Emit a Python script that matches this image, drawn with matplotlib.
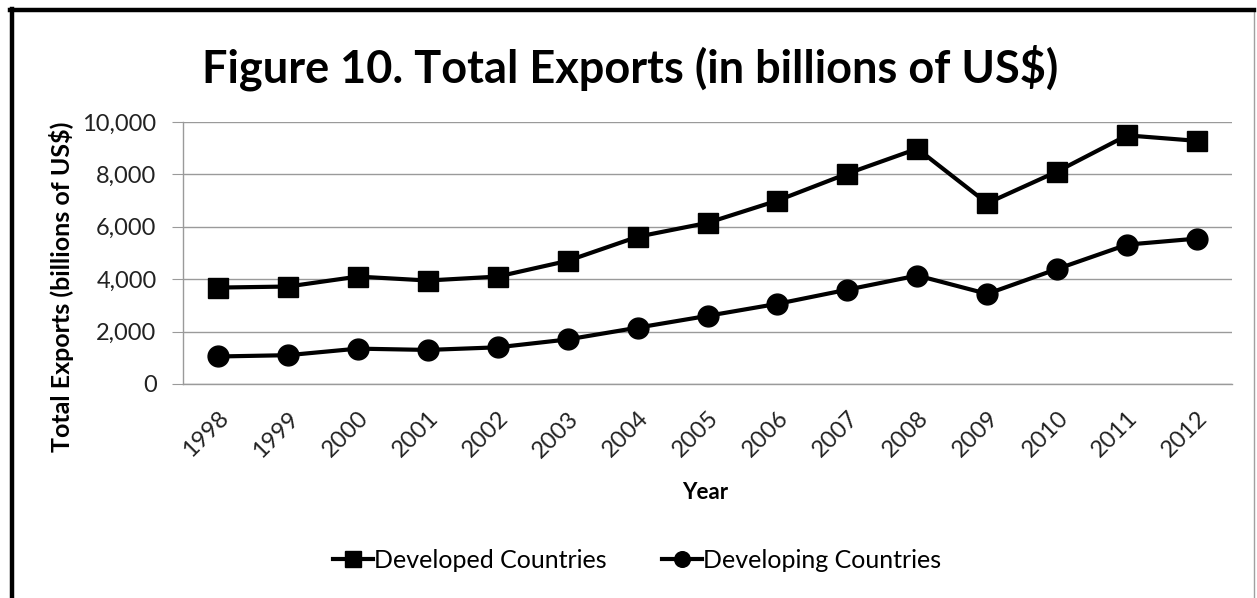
import matplotlib
matplotlib.use("Agg")
import matplotlib.pyplot as plt
from matplotlib.patches import Rectangle
from matplotlib.ticker import FuncFormatter, MultipleLocator

years = ["1998", "1999", "2000", "2001", "2002", "2003", "2004", "2005",
         "2006", "2007", "2008", "2009", "2010", "2011", "2012"]
developed = [3680, 3720, 4100, 3950, 4100, 4700, 5620, 6150,
             7000, 8030, 8980, 6900, 8110, 9490, 9280]
developing = [1050, 1100, 1350, 1300, 1400, 1700, 2150, 2600,
              3060, 3600, 4140, 3440, 4390, 5320, 5550]

plt.rcParams['font.family'] = ['Lato', 'DejaVu Sans']

W, H = 1257, 598
fig = plt.figure(figsize=(W / 100, H / 100), dpi=100)

# chart frame
fig.patches.append(Rectangle((11 / W, -0.05), (1254 - 11) / W, 1.05 - 10 / H,
                             transform=fig.transFigure, fill=False,
                             edgecolor="#a0a0a0", linewidth=1.0, zorder=0))
fig.add_artist(plt.Line2D([11.5 / W, 11.5 / W], [0, 1 - 9 / H],
                          transform=fig.transFigure, color="black", linewidth=3.2))
fig.add_artist(plt.Line2D([10 / W, 1254 / W], [1 - 10 / H, 1 - 10 / H],
                          transform=fig.transFigure, color="black", linewidth=3.2))

left, right = 183 / W, 1232 / W
bottom, top = 1 - 384 / H, 1 - 122 / H
ax = fig.add_axes([left, bottom, right - left, top - bottom])

x = list(range(len(years)))
ax.plot(x, developed, color="black", linewidth=3, marker="s", markersize=14.5,
        label="Developed Countries", zorder=3)
ax.plot(x, developing, color="black", linewidth=3, marker="o", markersize=15,
        label="Developing Countries", zorder=3)

ax.set_xlim(-0.5, len(years) - 0.5)
ax.set_ylim(0, 10000)
ax.yaxis.set_major_locator(MultipleLocator(2000))
ax.yaxis.set_major_formatter(FuncFormatter(lambda v, p: f"{int(v):,}"))
ax.grid(axis="y", color="#9a9a9a", linewidth=1.0)
ax.set_axisbelow(True)

for s in ["top", "right"]:
    ax.spines[s].set_visible(False)
for s in ["left", "bottom"]:
    ax.spines[s].set_color("#9a9a9a")
    ax.spines[s].set_linewidth(1.0)

ax.set_xticks(x)
ax.set_xticklabels(years, rotation=45, ha="right", rotation_mode="anchor",
                   fontsize=17, color="#222222")
ax.tick_params(axis="x", length=0, pad=17)
ax.tick_params(axis="y", length=8, color="#9a9a9a", labelsize=17,
               labelcolor="#222222", pad=11)

ax.set_ylabel("Total Exports (billions of US$)", fontsize=18, fontweight="bold")
ax.yaxis.set_label_coords(-0.104, 0.37)
ax.set_xlabel("Year", fontsize=16, fontweight="bold")
ax.xaxis.set_label_coords(0.498, -0.375)

fig.text(630 / W, 1 - 68 / H, "Figure 10. Total Exports (in billions of US$)",
         ha="center", va="center", fontsize=32.5, fontweight="bold")

fig.legend(loc="center", bbox_to_anchor=(637 / W, 1 - 560 / H), ncol=2,
           frameon=False, fontsize=18, handlelength=1.6, markerscale=0.75,
           columnspacing=2.2, handletextpad=0.05)

fig.savefig("out.png", dpi=100, facecolor="white")
